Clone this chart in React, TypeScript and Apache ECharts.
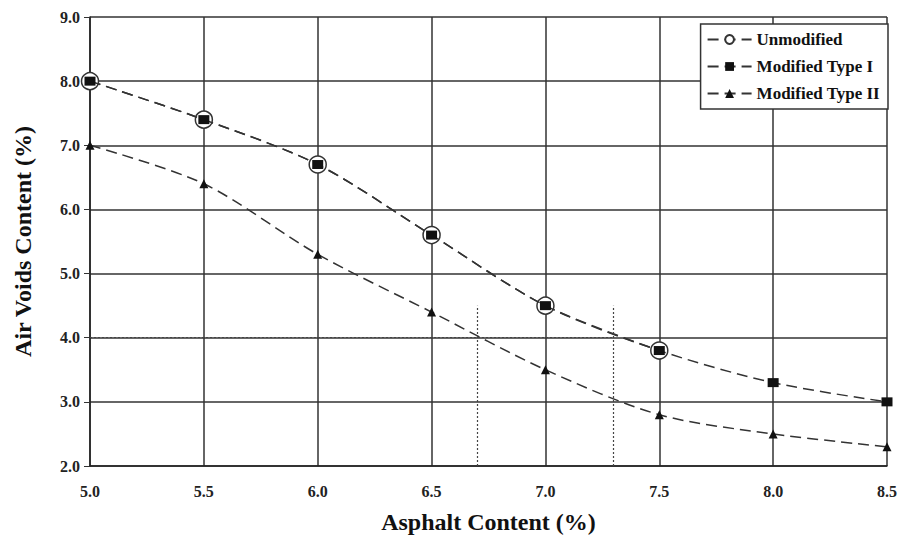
import React, { useEffect, useRef } from "react";
import * as echarts from "echarts";

const asphaltContent = [5.0, 5.5, 6.0, 6.5, 7.0, 7.5, 8.0, 8.5];
const unmodified = [8.0, 7.4, 6.7, 5.6, 4.5, 3.8];
const modifiedTypeI = [8.0, 7.4, 6.7, 5.6, 4.5, 3.8, 3.3, 3.0];
const modifiedTypeII = [7.0, 6.4, 5.3, 4.4, 3.5, 2.8, 2.5, 2.3];
const targetVoids = 4.0;
const optimumLow = 6.7;
const optimumHigh = 7.3;

const FONT = "'Liberation Serif', 'Times New Roman', serif";

export default function App() {
  const ref = useRef<HTMLDivElement>(null);
  useEffect(() => {
    if (!ref.current) return;
    const chart = echarts.init(ref.current, undefined, { renderer: "svg" });
    const pair = (ys: number[]) => ys.map((y, i) => [asphaltContent[i], y]);
    const dashStyle = { color: "#333", width: 1.5, type: [11, 6] as any };
    chart.setOption({
      animation: false,
      backgroundColor: "#fff",
      grid: {
        left: 90,
        right: 16,
        top: 17,
        bottom: 73,
        containLabel: false,
        outerBoundsMode: "none",
      },
      legend: {
        orient: "vertical",
        right: 15,
        top: 24,
        backgroundColor: "#fff",
        borderColor: "#333",
        borderWidth: 1.5,
        padding: [7, 8, 7, 6],
        itemGap: 10,
        itemWidth: 44,
        itemHeight: 11,
        textStyle: { fontFamily: FONT, fontWeight: "bold", fontSize: 17, color: "#111" },
        data: ["Unmodified", "Modified Type I", "Modified Type II"],
      },
      xAxis: {
        type: "value",
        min: 5.0,
        max: 8.5,
        interval: 0.5,
        name: "Asphalt Content (%)",
        nameLocation: "middle",
        nameGap: 44,
        nameTextStyle: { fontFamily: FONT, fontWeight: "bold", fontSize: 24, color: "#111" },
        axisLine: { show: true, lineStyle: { color: "#222", width: 1.5 } },
        axisTick: { show: false },
        axisLabel: {
          margin: 17,
          fontFamily: FONT,
          fontWeight: "bold",
          fontSize: 16,
          color: "#222",
          formatter: (v: number) => v.toFixed(1),
        },
        splitLine: { show: true, lineStyle: { color: "#333", width: 1.5 } },
      },
      yAxis: {
        type: "value",
        min: 2.0,
        max: 9.0,
        interval: 1.0,
        name: "Air Voids Content (%)",
        nameLocation: "middle",
        nameGap: 55,
        nameTextStyle: { fontFamily: FONT, fontWeight: "bold", fontSize: 24, color: "#111" },
        axisLine: { show: true, lineStyle: { color: "#222", width: 1.5 } },
        axisTick: { show: true, length: 6, inside: false, lineStyle: { color: "#333" } },
        axisLabel: {
          margin: 10,
          fontFamily: FONT,
          fontWeight: "bold",
          fontSize: 16,
          color: "#222",
          formatter: (v: number) => v.toFixed(1),
        },
        splitLine: { show: true, lineStyle: { color: "#333", width: 1.5 } },
      },
      series: [
        {
          name: "Unmodified",
          type: "line",
          smooth: 0.3,
          data: pair(unmodified),
          symbol: "circle",
          symbolSize: 17,
          itemStyle: { color: "#fff", borderColor: "#333", borderWidth: 1.5 },
          lineStyle: dashStyle,
          z: 3,
          markLine: {
            silent: true,
            symbol: "none",
            label: { show: false },
            lineStyle: { color: "#444", width: 1.2, type: [2, 2] as any },
            data: [
              [{ coord: [5.0, targetVoids] }, { coord: [optimumHigh, targetVoids] }],
              [{ coord: [optimumLow, 2.0] }, { coord: [optimumLow, 4.5] }],
              [{ coord: [optimumHigh, 2.0] }, { coord: [optimumHigh, 4.5] }],
            ],
          },
        },
        {
          name: "Modified Type I",
          type: "line",
          smooth: 0.3,
          data: pair(modifiedTypeI),
          symbol: "rect",
          symbolSize: [11, 9],
          itemStyle: { color: "#111" },
          lineStyle: dashStyle,
          z: 4,
        },
        {
          name: "Modified Type II",
          type: "line",
          smooth: 0.3,
          data: pair(modifiedTypeII),
          symbol: "triangle",
          symbolSize: 9,
          itemStyle: { color: "#111" },
          lineStyle: dashStyle,
          z: 4,
        },
      ],
    });
    return () => chart.dispose();
  }, []);
  return (
    <div
      ref={ref}
      style={{ position: "absolute", left: 0, top: 0, width: 903, height: 539 }}
    />
  );
}
